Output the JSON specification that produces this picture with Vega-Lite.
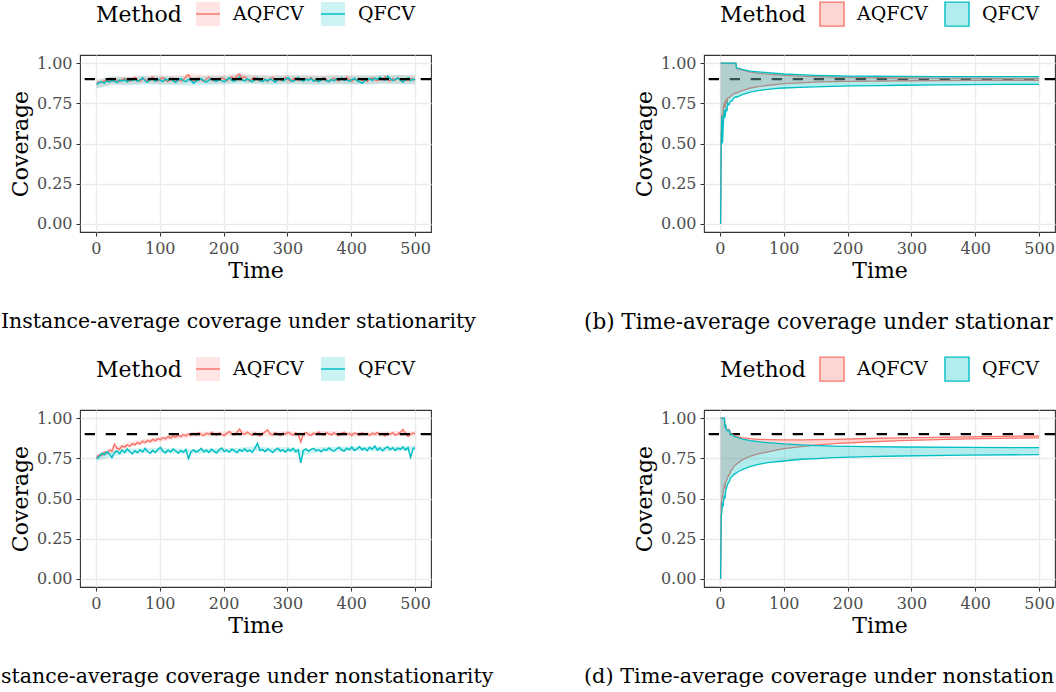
{
"$schema": "https://vega.github.io/schema/vega-lite/v6.json",
"background": "white",
"padding": {"left": 0, "top": 0, "right": 0, "bottom": 0},
"config": {
 "font": "DejaVu Serif",
 "view": {"stroke": "#333333", "strokeWidth": 1.1},
 "axis": {"domain": false, "grid": true, "gridColor": "#ebebeb", "tickColor": "#333333", "tickSize": 4, "tickWidth": 1.1, "labelColor": "#4d4d4d", "labelFont": "DejaVu Serif", "labelFontSize": 16, "titleFont": "DejaVu Serif", "titleFontSize": 22, "titleFontWeight": "normal", "titleColor": "black", "labelPadding": 4},
 "axisX": {"titlePadding": 4},
 "axisY": {"titlePadding": 4},
 "legend": {"orient": "top", "direction": "horizontal", "titleOrient": "left", "titleFont": "DejaVu Serif", "titleFontSize": 22, "titleFontWeight": "normal", "titleColor": "black", "labelFont": "DejaVu Serif", "labelFontSize": 19, "labelColor": "black", "symbolSize": 576, "labelOffset": 12, "columnPadding": 14, "titlePadding": 13, "offset": 26, "padding": 0, "layout": {"top": {"anchor": "middle"}}},
 "title": {"font": "DejaVu Serif", "fontWeight": "normal", "color": "black", "fontSize": 20.5}
},
"datasets": {
 "la": [
  {"t":1,"A":0.872,"Q":0.866},{"t":5,"A":0.884,"Q":0.878},{"t":9,"A":0.879,"Q":0.884},{"t":13,"A":0.891,"Q":0.874},{"t":17,"A":0.886,"Q":0.889},{"t":21,"A":0.898,"Q":0.881},{"t":25,"A":0.889,"Q":0.893},{"t":29,"A":0.902,"Q":0.886},{"t":33,"A":0.893,"Q":0.879},{"t":37,"A":0.884,"Q":0.895},
  {"t":41,"A":0.899,"Q":0.888},{"t":45,"A":0.905,"Q":0.897},{"t":49,"A":0.892,"Q":0.883},{"t":53,"A":0.887,"Q":0.899},{"t":57,"A":0.9,"Q":0.891},{"t":61,"A":0.911,"Q":0.902},{"t":65,"A":0.894,"Q":0.886},{"t":69,"A":0.886,"Q":0.896},{"t":73,"A":0.903,"Q":0.908},{"t":77,"A":0.897,"Q":0.889},
  {"t":81,"A":0.889,"Q":0.881},{"t":85,"A":0.905,"Q":0.897},{"t":89,"A":0.913,"Q":0.904},{"t":93,"A":0.896,"Q":0.887},{"t":97,"A":0.888,"Q":0.899},{"t":101,"A":0.901,"Q":0.893},{"t":105,"A":0.909,"Q":0.885},{"t":109,"A":0.893,"Q":0.901},{"t":113,"A":0.885,"Q":0.892},{"t":117,"A":0.899,"Q":0.906},
  {"t":121,"A":0.906,"Q":0.889},{"t":125,"A":0.894,"Q":0.88},{"t":129,"A":0.902,"Q":0.895},{"t":133,"A":0.889,"Q":0.903},{"t":137,"A":0.897,"Q":0.891},{"t":141,"A":0.916,"Q":0.884},{"t":145,"A":0.927,"Q":0.899},{"t":149,"A":0.903,"Q":0.892},{"t":153,"A":0.891,"Q":0.875},{"t":157,"A":0.898,"Q":0.887},
  {"t":161,"A":0.907,"Q":0.896},{"t":165,"A":0.895,"Q":0.902},{"t":169,"A":0.886,"Q":0.889},{"t":173,"A":0.901,"Q":0.881},{"t":177,"A":0.912,"Q":0.894},{"t":181,"A":0.898,"Q":0.905},{"t":185,"A":0.89,"Q":0.893},{"t":189,"A":0.904,"Q":0.886},{"t":193,"A":0.896,"Q":0.899},{"t":197,"A":0.909,"Q":0.891},
  {"t":201,"A":0.901,"Q":0.884},{"t":205,"A":0.889,"Q":0.897},{"t":209,"A":0.906,"Q":0.908},{"t":213,"A":0.914,"Q":0.892},{"t":217,"A":0.899,"Q":0.887},{"t":221,"A":0.922,"Q":0.901},{"t":225,"A":0.931,"Q":0.913},{"t":229,"A":0.908,"Q":0.896},{"t":233,"A":0.917,"Q":0.889},{"t":237,"A":0.896,"Q":0.902},
  {"t":241,"A":0.888,"Q":0.894},{"t":245,"A":0.903,"Q":0.883},{"t":249,"A":0.911,"Q":0.896},{"t":253,"A":0.897,"Q":0.907},{"t":257,"A":0.89,"Q":0.891},{"t":261,"A":0.905,"Q":0.885},{"t":265,"A":0.899,"Q":0.898},{"t":269,"A":0.886,"Q":0.89},{"t":273,"A":0.902,"Q":0.902},{"t":277,"A":0.91,"Q":0.893},
  {"t":281,"A":0.895,"Q":0.881},{"t":285,"A":0.903,"Q":0.896},{"t":289,"A":0.892,"Q":0.904},{"t":293,"A":0.898,"Q":0.889},{"t":297,"A":0.912,"Q":0.897},{"t":301,"A":0.897,"Q":0.909},{"t":305,"A":0.887,"Q":0.893},{"t":309,"A":0.901,"Q":0.886},{"t":313,"A":0.908,"Q":0.899},{"t":317,"A":0.893,"Q":0.911},
  {"t":321,"A":0.899,"Q":0.895},{"t":325,"A":0.89,"Q":0.888},{"t":329,"A":0.905,"Q":0.9},{"t":333,"A":0.896,"Q":0.892},{"t":337,"A":0.909,"Q":0.904},{"t":341,"A":0.893,"Q":0.887},{"t":345,"A":0.887,"Q":0.897},{"t":349,"A":0.9,"Q":0.884},{"t":353,"A":0.895,"Q":0.895},{"t":357,"A":0.91,"Q":0.906},
  {"t":361,"A":0.899,"Q":0.891},{"t":365,"A":0.885,"Q":0.885},{"t":369,"A":0.898,"Q":0.898},{"t":373,"A":0.906,"Q":0.889},{"t":377,"A":0.892,"Q":0.902},{"t":381,"A":0.889,"Q":0.894},{"t":385,"A":0.903,"Q":0.908},{"t":389,"A":0.896,"Q":0.892},{"t":393,"A":0.912,"Q":0.899},{"t":397,"A":0.898,"Q":0.886},
  {"t":401,"A":0.887,"Q":0.897},{"t":405,"A":0.902,"Q":0.905},{"t":409,"A":0.894,"Q":0.891},{"t":413,"A":0.906,"Q":0.884},{"t":417,"A":0.891,"Q":0.874},{"t":421,"A":0.898,"Q":0.889},{"t":425,"A":0.885,"Q":0.896},{"t":429,"A":0.901,"Q":0.903},{"t":433,"A":0.909,"Q":0.892},{"t":437,"A":0.895,"Q":0.906},
  {"t":441,"A":0.89,"Q":0.899},{"t":445,"A":0.903,"Q":0.912},{"t":449,"A":0.897,"Q":0.901},{"t":453,"A":0.914,"Q":0.894},{"t":457,"A":0.899,"Q":0.918},{"t":461,"A":0.888,"Q":0.903},{"t":465,"A":0.904,"Q":0.891},{"t":469,"A":0.893,"Q":0.899},{"t":473,"A":0.908,"Q":0.907},{"t":477,"A":0.896,"Q":0.893},
  {"t":481,"A":0.884,"Q":0.882},{"t":485,"A":0.901,"Q":0.896},{"t":489,"A":0.893,"Q":0.909},{"t":493,"A":0.905,"Q":0.891},{"t":497,"A":0.896,"Q":0.9},{"t":500,"A":0.899,"Q":0.894}
 ],
 "ra": [
  {"t":1,"Al":0.845,"Ah":0.9,"Ql":0.84,"Qh":0.893},{"t":25,"Al":0.865,"Ah":0.915,"Ql":0.866,"Qh":0.918},{"t":50,"Al":0.866,"Ah":0.918,"Ql":0.86,"Qh":0.912},{"t":75,"Al":0.873,"Ah":0.923,"Ql":0.866,"Qh":0.918},{"t":100,"Al":0.871,"Ah":0.926,"Ql":0.865,"Qh":0.92},
  {"t":125,"Al":0.868,"Ah":0.922,"Ql":0.862,"Qh":0.917},{"t":150,"Al":0.878,"Ah":0.933,"Ql":0.861,"Qh":0.915},{"t":175,"Al":0.873,"Ah":0.925,"Ql":0.864,"Qh":0.919},{"t":200,"Al":0.872,"Ah":0.926,"Ql":0.866,"Qh":0.92},{"t":225,"Al":0.882,"Ah":0.938,"Ql":0.87,"Qh":0.925},
  {"t":250,"Al":0.874,"Ah":0.928,"Ql":0.868,"Qh":0.922},{"t":275,"Al":0.872,"Ah":0.926,"Ql":0.865,"Qh":0.92},{"t":300,"Al":0.873,"Ah":0.927,"Ql":0.869,"Qh":0.924},{"t":325,"Al":0.87,"Ah":0.925,"Ql":0.866,"Qh":0.921},{"t":350,"Al":0.871,"Ah":0.926,"Ql":0.864,"Qh":0.919},
  {"t":375,"Al":0.872,"Ah":0.926,"Ql":0.867,"Qh":0.922},{"t":400,"Al":0.87,"Ah":0.925,"Ql":0.866,"Qh":0.921},{"t":425,"Al":0.868,"Ah":0.923,"Ql":0.866,"Qh":0.922},{"t":450,"Al":0.873,"Ah":0.928,"Ql":0.871,"Qh":0.927},{"t":475,"Al":0.872,"Ah":0.926,"Ql":0.869,"Qh":0.925},{"t":500,"Al":0.872,"Ah":0.926,"Ql":0.867,"Qh":0.921}
 ],
 "lc": [
  {"t":1,"A":0.755,"Q":0.748},{"t":5,"A":0.772,"Q":0.76},{"t":9,"A":0.768,"Q":0.781},{"t":13,"A":0.789,"Q":0.772},{"t":17,"A":0.781,"Q":0.79},{"t":21,"A":0.801,"Q":0.777},{"t":25,"A":0.795,"Q":0.754},{"t":29,"A":0.838,"Q":0.786},{"t":33,"A":0.812,"Q":0.795},{"t":37,"A":0.806,"Q":0.779},
  {"t":41,"A":0.826,"Q":0.801},{"t":45,"A":0.819,"Q":0.786},{"t":49,"A":0.833,"Q":0.808},{"t":53,"A":0.825,"Q":0.792},{"t":57,"A":0.841,"Q":0.777},{"t":61,"A":0.834,"Q":0.797},{"t":65,"A":0.848,"Q":0.784},{"t":69,"A":0.839,"Q":0.803},{"t":73,"A":0.856,"Q":0.789},{"t":77,"A":0.847,"Q":0.812},
  {"t":81,"A":0.861,"Q":0.792},{"t":85,"A":0.852,"Q":0.781},{"t":89,"A":0.868,"Q":0.799},{"t":93,"A":0.859,"Q":0.786},{"t":97,"A":0.872,"Q":0.805},{"t":101,"A":0.866,"Q":0.818},{"t":105,"A":0.879,"Q":0.794},{"t":109,"A":0.871,"Q":0.783},{"t":113,"A":0.884,"Q":0.801},{"t":117,"A":0.876,"Q":0.789},
  {"t":121,"A":0.889,"Q":0.808},{"t":125,"A":0.881,"Q":0.795},{"t":129,"A":0.893,"Q":0.782},{"t":133,"A":0.885,"Q":0.799},{"t":137,"A":0.897,"Q":0.787},{"t":141,"A":0.889,"Q":0.805},{"t":145,"A":0.901,"Q":0.748},{"t":149,"A":0.893,"Q":0.791},{"t":153,"A":0.904,"Q":0.802},{"t":157,"A":0.896,"Q":0.788},
  {"t":161,"A":0.909,"Q":0.797},{"t":165,"A":0.899,"Q":0.811},{"t":169,"A":0.891,"Q":0.79},{"t":173,"A":0.906,"Q":0.801},{"t":177,"A":0.898,"Q":0.786},{"t":181,"A":0.912,"Q":0.806},{"t":185,"A":0.901,"Q":0.795},{"t":189,"A":0.894,"Q":0.783},{"t":193,"A":0.908,"Q":0.802},{"t":197,"A":0.899,"Q":0.814},
  {"t":201,"A":0.891,"Q":0.793},{"t":205,"A":0.905,"Q":0.801},{"t":209,"A":0.917,"Q":0.789},{"t":213,"A":0.902,"Q":0.806},{"t":217,"A":0.896,"Q":0.797},{"t":221,"A":0.911,"Q":0.784},{"t":225,"A":0.932,"Q":0.803},{"t":229,"A":0.906,"Q":0.795},{"t":233,"A":0.898,"Q":0.809},{"t":237,"A":0.912,"Q":0.792},
  {"t":241,"A":0.901,"Q":0.8},{"t":245,"A":0.893,"Q":0.787},{"t":249,"A":0.907,"Q":0.811},{"t":253,"A":0.899,"Q":0.843},{"t":257,"A":0.888,"Q":0.798},{"t":261,"A":0.904,"Q":0.805},{"t":265,"A":0.914,"Q":0.791},{"t":269,"A":0.926,"Q":0.808},{"t":273,"A":0.901,"Q":0.799},{"t":277,"A":0.895,"Q":0.786},
  {"t":281,"A":0.909,"Q":0.803},{"t":285,"A":0.898,"Q":0.812},{"t":289,"A":0.891,"Q":0.795},{"t":293,"A":0.906,"Q":0.802},{"t":297,"A":0.899,"Q":0.788},{"t":301,"A":0.912,"Q":0.806},{"t":305,"A":0.902,"Q":0.797},{"t":309,"A":0.894,"Q":0.811},{"t":313,"A":0.908,"Q":0.791},{"t":317,"A":0.897,"Q":0.803},
  {"t":321,"A":0.852,"Q":0.722},{"t":325,"A":0.903,"Q":0.798},{"t":329,"A":0.911,"Q":0.808},{"t":333,"A":0.898,"Q":0.793},{"t":337,"A":0.892,"Q":0.805},{"t":341,"A":0.906,"Q":0.812},{"t":345,"A":0.899,"Q":0.796},{"t":349,"A":0.913,"Q":0.803},{"t":353,"A":0.901,"Q":0.791},{"t":357,"A":0.894,"Q":0.807},
  {"t":361,"A":0.909,"Q":0.799},{"t":365,"A":0.902,"Q":0.814},{"t":369,"A":0.896,"Q":0.802},{"t":373,"A":0.908,"Q":0.794},{"t":377,"A":0.899,"Q":0.809},{"t":381,"A":0.891,"Q":0.818},{"t":385,"A":0.905,"Q":0.801},{"t":389,"A":0.912,"Q":0.795},{"t":393,"A":0.898,"Q":0.812},{"t":397,"A":0.903,"Q":0.804},
  {"t":401,"A":0.893,"Q":0.819},{"t":405,"A":0.907,"Q":0.798},{"t":409,"A":0.901,"Q":0.808},{"t":413,"A":0.895,"Q":0.821},{"t":417,"A":0.909,"Q":0.803},{"t":421,"A":0.898,"Q":0.812},{"t":425,"A":0.904,"Q":0.797},{"t":429,"A":0.893,"Q":0.818},{"t":433,"A":0.906,"Q":0.806},{"t":437,"A":0.899,"Q":0.826},
  {"t":441,"A":0.911,"Q":0.801},{"t":445,"A":0.897,"Q":0.815},{"t":449,"A":0.903,"Q":0.797},{"t":453,"A":0.889,"Q":0.811},{"t":457,"A":0.905,"Q":0.822},{"t":461,"A":0.898,"Q":0.803},{"t":465,"A":0.909,"Q":0.816},{"t":469,"A":0.894,"Q":0.799},{"t":473,"A":0.901,"Q":0.813},{"t":477,"A":0.912,"Q":0.806},
  {"t":481,"A":0.929,"Q":0.82},{"t":485,"A":0.904,"Q":0.802},{"t":489,"A":0.886,"Q":0.816},{"t":493,"A":0.898,"Q":0.757},{"t":497,"A":0.907,"Q":0.812},{"t":500,"A":0.902,"Q":0.814}
 ],
 "rc": [
  {"t":1,"Al":0.74,"Ah":0.77,"Ql":0.733,"Qh":0.763},{"t":25,"Al":0.785,"Ah":0.815,"Ql":0.76,"Qh":0.795},{"t":50,"Al":0.815,"Ah":0.848,"Ql":0.78,"Qh":0.81},{"t":75,"Al":0.838,"Ah":0.868,"Ql":0.782,"Qh":0.812},{"t":100,"Al":0.853,"Ah":0.883,"Ql":0.785,"Qh":0.815},
  {"t":125,"Al":0.868,"Ah":0.898,"Ql":0.78,"Qh":0.81},{"t":150,"Al":0.88,"Ah":0.91,"Ql":0.776,"Qh":0.806},{"t":175,"Al":0.887,"Ah":0.917,"Ql":0.781,"Qh":0.811},{"t":200,"Al":0.886,"Ah":0.916,"Ql":0.782,"Qh":0.812},{"t":225,"Al":0.893,"Ah":0.925,"Ql":0.785,"Qh":0.815},
  {"t":250,"Al":0.888,"Ah":0.918,"Ql":0.795,"Qh":0.825},{"t":275,"Al":0.885,"Ah":0.915,"Ql":0.786,"Qh":0.816},{"t":300,"Al":0.89,"Ah":0.92,"Ql":0.79,"Qh":0.82},{"t":325,"Al":0.88,"Ah":0.91,"Ql":0.77,"Qh":0.805},{"t":350,"Al":0.891,"Ah":0.921,"Ql":0.788,"Qh":0.818},
  {"t":375,"Al":0.888,"Ah":0.918,"Ql":0.792,"Qh":0.822},{"t":400,"Al":0.883,"Ah":0.913,"Ql":0.795,"Qh":0.825},{"t":425,"Al":0.887,"Ah":0.917,"Ql":0.793,"Qh":0.823},{"t":450,"Al":0.885,"Ah":0.915,"Ql":0.792,"Qh":0.822},{"t":475,"Al":0.89,"Ah":0.92,"Ql":0.795,"Qh":0.825},{"t":500,"Al":0.887,"Ah":0.917,"Ql":0.798,"Qh":0.828}
 ],
 "rb": [
  {"t":1,"Al":0,"Ah":1,"Ql":0,"Qh":1},{"t":2,"Al":0.55,"Ah":1,"Ql":0.5,"Qh":1},{"t":3,"Al":0.68,"Ah":1,"Ql":0.67,"Qh":1},{"t":4,"Al":0.62,"Ah":1,"Ql":0.5,"Qh":1},{"t":5,"Al":0.7,"Ah":1,"Ql":0.6,"Qh":1},
  {"t":6,"Al":0.74,"Ah":1,"Ql":0.67,"Qh":1},{"t":7,"Al":0.75,"Ah":1,"Ql":0.71,"Qh":1},{"t":8,"Al":0.72,"Ah":1,"Ql":0.66,"Qh":1},{"t":9,"Al":0.76,"Ah":1,"Ql":0.7,"Qh":1},{"t":10,"Al":0.77,"Ah":1,"Ql":0.72,"Qh":1},
  {"t":11,"Al":0.75,"Ah":1,"Ql":0.7,"Qh":1},{"t":12,"Al":0.78,"Ah":1,"Ql":0.75,"Qh":1},{"t":14,"Al":0.785,"Ah":1,"Ql":0.74,"Qh":1},{"t":16,"Al":0.79,"Ah":1,"Ql":0.76,"Qh":1},{"t":19,"Al":0.8,"Ah":1,"Ql":0.765,"Qh":1},
  {"t":22,"Al":0.81,"Ah":1,"Ql":0.783,"Qh":1},{"t":25,"Al":0.815,"Ah":1,"Ql":0.79,"Qh":1},{"t":26,"Al":0.812,"Ah":0.965,"Ql":0.788,"Qh":0.971},{"t":30,"Al":0.822,"Ah":0.962,"Ql":0.795,"Qh":0.967},{"t":35,"Al":0.829,"Ah":0.957,"Ql":0.804,"Qh":0.961},
  {"t":40,"Al":0.835,"Ah":0.952,"Ql":0.81,"Qh":0.956},{"t":48,"Al":0.845,"Ah":0.944,"Ql":0.82,"Qh":0.95},{"t":60,"Al":0.853,"Ah":0.937,"Ql":0.829,"Qh":0.945},{"t":75,"Al":0.862,"Ah":0.931,"Ql":0.837,"Qh":0.94},{"t":90,"Al":0.868,"Ah":0.927,"Ql":0.842,"Qh":0.935},
  {"t":100,"Al":0.872,"Ah":0.924,"Ql":0.845,"Qh":0.932},{"t":125,"Al":0.877,"Ah":0.919,"Ql":0.849,"Qh":0.928},{"t":150,"Al":0.882,"Ah":0.915,"Ql":0.852,"Qh":0.924},{"t":175,"Al":0.884,"Ah":0.913,"Ql":0.855,"Qh":0.921},{"t":205,"Al":0.886,"Ah":0.911,"Ql":0.858,"Qh":0.919},
  {"t":250,"Al":0.888,"Ah":0.909,"Ql":0.86,"Qh":0.918},{"t":283,"Al":0.89,"Ah":0.907,"Ql":0.862,"Qh":0.917},{"t":350,"Al":0.891,"Ah":0.906,"Ql":0.864,"Qh":0.916},{"t":387,"Al":0.892,"Ah":0.906,"Ql":0.866,"Qh":0.915},{"t":450,"Al":0.893,"Ah":0.905,"Ql":0.867,"Qh":0.915},{"t":500,"Al":0.893,"Ah":0.905,"Ql":0.868,"Qh":0.915}
 ],
 "rd": [
  {"t":1,"Al":0,"Ah":1,"Ql":0,"Qh":1},{"t":2,"Al":0.45,"Ah":1,"Ql":0.39,"Qh":1},{"t":3,"Al":0.5,"Ah":1,"Ql":0.42,"Qh":1},{"t":4,"Al":0.52,"Ah":1,"Ql":0.475,"Qh":1},{"t":5,"Al":0.53,"Ah":1,"Ql":0.45,"Qh":1},
  {"t":6,"Al":0.56,"Ah":1,"Ql":0.5,"Qh":1},{"t":7,"Al":0.58,"Ah":1,"Ql":0.52,"Qh":1},{"t":8,"Al":0.57,"Ah":0.95,"Ql":0.5,"Qh":0.94},{"t":9,"Al":0.6,"Ah":0.955,"Ql":0.55,"Qh":0.95},{"t":10,"Al":0.61,"Ah":0.935,"Ql":0.56,"Qh":0.93},
  {"t":12,"Al":0.63,"Ah":0.925,"Ql":0.59,"Qh":0.92},{"t":14,"Al":0.645,"Ah":0.93,"Ql":0.6,"Qh":0.925},{"t":17,"Al":0.67,"Ah":0.905,"Ql":0.63,"Qh":0.9},{"t":20,"Al":0.685,"Ah":0.898,"Ql":0.64,"Qh":0.895},{"t":22,"Al":0.7,"Ah":0.892,"Ql":0.65,"Qh":0.886},
  {"t":28,"Al":0.72,"Ah":0.884,"Ql":0.665,"Qh":0.878},{"t":35,"Al":0.74,"Ah":0.878,"Ql":0.68,"Qh":0.869},{"t":48,"Al":0.764,"Ah":0.872,"Ql":0.7,"Qh":0.86},{"t":60,"Al":0.778,"Ah":0.868,"Ql":0.712,"Qh":0.853},{"t":75,"Al":0.79,"Ah":0.866,"Ql":0.723,"Qh":0.847},
  {"t":100,"Al":0.81,"Ah":0.864,"Ql":0.733,"Qh":0.839},{"t":127,"Al":0.822,"Ah":0.864,"Ql":0.744,"Qh":0.833},{"t":153,"Al":0.833,"Ah":0.866,"Ql":0.748,"Qh":0.829},{"t":179,"Al":0.841,"Ah":0.868,"Ql":0.754,"Qh":0.826},{"t":231,"Al":0.851,"Ah":0.873,"Ql":0.76,"Qh":0.822},
  {"t":283,"Al":0.86,"Ah":0.877,"Ql":0.764,"Qh":0.82},{"t":387,"Al":0.87,"Ah":0.883,"Ql":0.769,"Qh":0.818},{"t":500,"Al":0.877,"Ah":0.889,"Ql":0.773,"Qh":0.816}
 ]
},
"columns": 2,
"spacing": {"row": 178, "column": 273},
"bounds": "flush",
"resolve": {"scale": {"stroke": "independent", "fill": "independent"}, "legend": {"stroke": "independent", "fill": "independent"}},
"concat": [
 {
  "width": 351, "height": 177,
  "title": {"text": "Instance-average coverage under stationarity", "orient": "bottom", "anchor": "start", "frame": "group", "dx": -79, "offset": 31},
  "layer": [
   {"data": {"name": "ra"}, "mark": {"type": "area"},
    "encoding": {
     "x": {"field": "t", "type": "quantitative", "title": "Time", "scale": {"domain": [-25, 525], "nice": false, "zero": false},
       "axis": {"values": [0,50,100,150,200,250,300,350,400,450,500], "labelExpr": "datum.value % 100 === 0 ? datum.label : ''", "gridWidth": {"condition": {"test": "datum.value % 100 === 0", "value": 1.4}, "value": 0.7}, "tickOpacity": {"condition": {"test": "datum.value % 100 === 0", "value": 1}, "value": 0}}},
     "y": {"field": "Ah", "type": "quantitative", "title": "Coverage", "scale": {"domain": [-0.05, 1.05], "nice": false, "zero": false},
       "axis": {"values": [0,0.125,0.25,0.375,0.5,0.625,0.75,0.875,1], "format": ".2f", "labelExpr": "(datum.value * 4) % 1 === 0 ? datum.label : ''", "gridWidth": {"condition": {"test": "(datum.value * 4) % 1 === 0", "value": 1.4}, "value": 0.7}, "tickOpacity": {"condition": {"test": "(datum.value * 4) % 1 === 0", "value": 1}, "value": 0}}},
     "y2": {"field": "Al"},
     "fill": {"datum": "AQFCV", "title": "Method", "scale": {"domain": ["AQFCV", "QFCV"], "range": ["rgba(248,118,109,0.2)", "rgba(0,191,196,0.2)"]},
       "legend": {"title": "Method", "symbolType": "M-1,0H1V-1H-1V1H1V0", "symbolDash": [24, 96], "symbolStrokeWidth": 1.5}}}},
   {"data": {"name": "ra"}, "mark": {"type": "area"},
    "encoding": {
     "x": {"field": "t", "type": "quantitative", "title": "Time", "scale": {"domain": [-25, 525], "nice": false, "zero": false}},
     "y": {"field": "Qh", "type": "quantitative", "title": "Coverage", "scale": {"domain": [-0.05, 1.05], "nice": false, "zero": false}},
     "y2": {"field": "Ql"},
     "fill": {"datum": "QFCV", "title": "Method", "scale": {"domain": ["AQFCV", "QFCV"], "range": ["rgba(248,118,109,0.2)", "rgba(0,191,196,0.2)"]}}}},
   {"data": {"name": "la"}, "mark": {"type": "line", "strokeWidth": 1.5},
    "encoding": {
     "x": {"field": "t", "type": "quantitative", "title": "Time", "scale": {"domain": [-25, 525], "nice": false, "zero": false}},
     "y": {"field": "A", "type": "quantitative", "title": "Coverage", "scale": {"domain": [-0.05, 1.05], "nice": false, "zero": false}},
     "stroke": {"datum": "AQFCV", "title": "Method", "scale": {"domain": ["AQFCV", "QFCV"], "range": ["#F8766D", "#00BFC4"]},
       "legend": {"title": "Method", "symbolType": "M-1,0H1V-1H-1V1H1V0", "symbolDash": [24, 96], "symbolStrokeWidth": 1.5}}}},
   {"data": {"name": "la"}, "mark": {"type": "line", "strokeWidth": 1.5},
    "encoding": {
     "x": {"field": "t", "type": "quantitative", "title": "Time", "scale": {"domain": [-25, 525], "nice": false, "zero": false}},
     "y": {"field": "Q", "type": "quantitative", "title": "Coverage", "scale": {"domain": [-0.05, 1.05], "nice": false, "zero": false}},
     "stroke": {"datum": "QFCV", "title": "Method", "scale": {"domain": ["AQFCV", "QFCV"], "range": ["#F8766D", "#00BFC4"]}}}},
   {"data": {"values": [{}]}, "mark": {"type": "rule", "color": "black", "strokeWidth": 2.2, "strokeDash": [10.3, 10.7]},
    "encoding": {"y": {"datum": 0.9, "type": "quantitative", "title": "Coverage", "scale": {"domain": [-0.05, 1.05], "nice": false, "zero": false}}}}
  ]
 },
 {
  "width": 351, "height": 177,
  "title": {"text": "(b) Time-average coverage under stationar", "orient": "bottom", "anchor": "start", "frame": "group", "dx": -120, "offset": 31, "fontSize": 21.5},
  "layer": [
   {"data": {"values": [{}]}, "mark": {"type": "rule", "color": "black", "strokeWidth": 2.2, "strokeDash": [10.3, 10.7]},
    "encoding": {"y": {"datum": 0.9, "type": "quantitative", "title": "Coverage", "scale": {"domain": [-0.05, 1.05], "nice": false, "zero": false},
       "axis": {"values": [0,0.125,0.25,0.375,0.5,0.625,0.75,0.875,1], "format": ".2f", "labelExpr": "(datum.value * 4) % 1 === 0 ? datum.label : ''", "gridWidth": {"condition": {"test": "(datum.value * 4) % 1 === 0", "value": 1.4}, "value": 0.7}, "tickOpacity": {"condition": {"test": "(datum.value * 4) % 1 === 0", "value": 1}, "value": 0}}}}},
   {"data": {"name": "rb"}, "mark": {"type": "area"},
    "encoding": {
     "x": {"field": "t", "type": "quantitative", "title": "Time", "scale": {"domain": [-25, 525], "nice": false, "zero": false},
       "axis": {"values": [0,50,100,150,200,250,300,350,400,450,500], "labelExpr": "datum.value % 100 === 0 ? datum.label : ''", "gridWidth": {"condition": {"test": "datum.value % 100 === 0", "value": 1.4}, "value": 0.7}, "tickOpacity": {"condition": {"test": "datum.value % 100 === 0", "value": 1}, "value": 0}}},
     "y": {"field": "Ah", "type": "quantitative", "title": "Coverage", "scale": {"domain": [-0.05, 1.05], "nice": false, "zero": false}},
     "y2": {"field": "Al"},
     "fill": {"datum": "AQFCV", "title": "Method", "scale": {"domain": ["AQFCV", "QFCV"], "range": ["rgba(248,118,109,0.3)", "rgba(0,191,196,0.3)"]},
       "legend": {"title": "Method", "symbolType": "square", "symbolStrokeWidth": 1.4}}}},
   {"data": {"name": "rb"}, "mark": {"type": "line", "strokeWidth": 1.3},
    "encoding": {
     "x": {"field": "t", "type": "quantitative", "title": "Time", "scale": {"domain": [-25, 525], "nice": false, "zero": false}},
     "y": {"field": "Ah", "type": "quantitative", "title": "Coverage", "scale": {"domain": [-0.05, 1.05], "nice": false, "zero": false}},
     "stroke": {"datum": "AQFCV", "title": "Method", "scale": {"domain": ["AQFCV", "QFCV"], "range": ["#F8766D", "#00BFC4"]},
       "legend": {"title": "Method", "symbolType": "square", "symbolStrokeWidth": 1.4}}}},
   {"data": {"name": "rb"}, "mark": {"type": "line", "strokeWidth": 1.3},
    "encoding": {
     "x": {"field": "t", "type": "quantitative", "title": "Time", "scale": {"domain": [-25, 525], "nice": false, "zero": false}},
     "y": {"field": "Al", "type": "quantitative", "title": "Coverage", "scale": {"domain": [-0.05, 1.05], "nice": false, "zero": false}},
     "stroke": {"datum": "AQFCV", "title": "Method", "scale": {"domain": ["AQFCV", "QFCV"], "range": ["#F8766D", "#00BFC4"]}}}},
   {"data": {"name": "rb"}, "mark": {"type": "area"},
    "encoding": {
     "x": {"field": "t", "type": "quantitative", "title": "Time", "scale": {"domain": [-25, 525], "nice": false, "zero": false}},
     "y": {"field": "Qh", "type": "quantitative", "title": "Coverage", "scale": {"domain": [-0.05, 1.05], "nice": false, "zero": false}},
     "y2": {"field": "Ql"},
     "fill": {"datum": "QFCV", "title": "Method", "scale": {"domain": ["AQFCV", "QFCV"], "range": ["rgba(248,118,109,0.3)", "rgba(0,191,196,0.3)"]}}}},
   {"data": {"name": "rb"}, "mark": {"type": "line", "strokeWidth": 1.3},
    "encoding": {
     "x": {"field": "t", "type": "quantitative", "title": "Time", "scale": {"domain": [-25, 525], "nice": false, "zero": false}},
     "y": {"field": "Qh", "type": "quantitative", "title": "Coverage", "scale": {"domain": [-0.05, 1.05], "nice": false, "zero": false}},
     "stroke": {"datum": "QFCV", "title": "Method", "scale": {"domain": ["AQFCV", "QFCV"], "range": ["#F8766D", "#00BFC4"]}}}},
   {"data": {"name": "rb"}, "mark": {"type": "line", "strokeWidth": 1.3},
    "encoding": {
     "x": {"field": "t", "type": "quantitative", "title": "Time", "scale": {"domain": [-25, 525], "nice": false, "zero": false}},
     "y": {"field": "Ql", "type": "quantitative", "title": "Coverage", "scale": {"domain": [-0.05, 1.05], "nice": false, "zero": false}},
     "stroke": {"datum": "QFCV", "title": "Method", "scale": {"domain": ["AQFCV", "QFCV"], "range": ["#F8766D", "#00BFC4"]}}}}
  ]
 },
 {
  "width": 351, "height": 177,
  "title": {"text": "stance-average coverage under nonstationarity", "orient": "bottom", "anchor": "start", "frame": "group", "dx": -79, "offset": 31},
  "layer": [
   {"data": {"name": "rc"}, "mark": {"type": "area"},
    "encoding": {
     "x": {"field": "t", "type": "quantitative", "title": "Time", "scale": {"domain": [-25, 525], "nice": false, "zero": false},
       "axis": {"values": [0,50,100,150,200,250,300,350,400,450,500], "labelExpr": "datum.value % 100 === 0 ? datum.label : ''", "gridWidth": {"condition": {"test": "datum.value % 100 === 0", "value": 1.4}, "value": 0.7}, "tickOpacity": {"condition": {"test": "datum.value % 100 === 0", "value": 1}, "value": 0}}},
     "y": {"field": "Ah", "type": "quantitative", "title": "Coverage", "scale": {"domain": [-0.05, 1.05], "nice": false, "zero": false},
       "axis": {"values": [0,0.125,0.25,0.375,0.5,0.625,0.75,0.875,1], "format": ".2f", "labelExpr": "(datum.value * 4) % 1 === 0 ? datum.label : ''", "gridWidth": {"condition": {"test": "(datum.value * 4) % 1 === 0", "value": 1.4}, "value": 0.7}, "tickOpacity": {"condition": {"test": "(datum.value * 4) % 1 === 0", "value": 1}, "value": 0}}},
     "y2": {"field": "Al"},
     "fill": {"datum": "AQFCV", "title": "Method", "scale": {"domain": ["AQFCV", "QFCV"], "range": ["rgba(248,118,109,0.2)", "rgba(0,191,196,0.2)"]},
       "legend": {"title": "Method", "symbolType": "M-1,0H1V-1H-1V1H1V0", "symbolDash": [24, 96], "symbolStrokeWidth": 1.5}}}},
   {"data": {"name": "rc"}, "mark": {"type": "area"},
    "encoding": {
     "x": {"field": "t", "type": "quantitative", "title": "Time", "scale": {"domain": [-25, 525], "nice": false, "zero": false}},
     "y": {"field": "Qh", "type": "quantitative", "title": "Coverage", "scale": {"domain": [-0.05, 1.05], "nice": false, "zero": false}},
     "y2": {"field": "Ql"},
     "fill": {"datum": "QFCV", "title": "Method", "scale": {"domain": ["AQFCV", "QFCV"], "range": ["rgba(248,118,109,0.2)", "rgba(0,191,196,0.2)"]}}}},
   {"data": {"name": "lc"}, "mark": {"type": "line", "strokeWidth": 1.5},
    "encoding": {
     "x": {"field": "t", "type": "quantitative", "title": "Time", "scale": {"domain": [-25, 525], "nice": false, "zero": false}},
     "y": {"field": "A", "type": "quantitative", "title": "Coverage", "scale": {"domain": [-0.05, 1.05], "nice": false, "zero": false}},
     "stroke": {"datum": "AQFCV", "title": "Method", "scale": {"domain": ["AQFCV", "QFCV"], "range": ["#F8766D", "#00BFC4"]},
       "legend": {"title": "Method", "symbolType": "M-1,0H1V-1H-1V1H1V0", "symbolDash": [24, 96], "symbolStrokeWidth": 1.5}}}},
   {"data": {"name": "lc"}, "mark": {"type": "line", "strokeWidth": 1.5},
    "encoding": {
     "x": {"field": "t", "type": "quantitative", "title": "Time", "scale": {"domain": [-25, 525], "nice": false, "zero": false}},
     "y": {"field": "Q", "type": "quantitative", "title": "Coverage", "scale": {"domain": [-0.05, 1.05], "nice": false, "zero": false}},
     "stroke": {"datum": "QFCV", "title": "Method", "scale": {"domain": ["AQFCV", "QFCV"], "range": ["#F8766D", "#00BFC4"]}}}},
   {"data": {"values": [{}]}, "mark": {"type": "rule", "color": "black", "strokeWidth": 2.2, "strokeDash": [10.3, 10.7]},
    "encoding": {"y": {"datum": 0.9, "type": "quantitative", "title": "Coverage", "scale": {"domain": [-0.05, 1.05], "nice": false, "zero": false}}}}
  ]
 },
 {
  "width": 351, "height": 177,
  "title": {"text": "(d) Time-average coverage under nonstation", "orient": "bottom", "anchor": "start", "frame": "group", "dx": -120, "offset": 31, "fontSize": 20.8},
  "layer": [
   {"data": {"values": [{}]}, "mark": {"type": "rule", "color": "black", "strokeWidth": 2.2, "strokeDash": [10.3, 10.7]},
    "encoding": {"y": {"datum": 0.9, "type": "quantitative", "title": "Coverage", "scale": {"domain": [-0.05, 1.05], "nice": false, "zero": false},
       "axis": {"values": [0,0.125,0.25,0.375,0.5,0.625,0.75,0.875,1], "format": ".2f", "labelExpr": "(datum.value * 4) % 1 === 0 ? datum.label : ''", "gridWidth": {"condition": {"test": "(datum.value * 4) % 1 === 0", "value": 1.4}, "value": 0.7}, "tickOpacity": {"condition": {"test": "(datum.value * 4) % 1 === 0", "value": 1}, "value": 0}}}}},
   {"data": {"name": "rd"}, "mark": {"type": "area"},
    "encoding": {
     "x": {"field": "t", "type": "quantitative", "title": "Time", "scale": {"domain": [-25, 525], "nice": false, "zero": false},
       "axis": {"values": [0,50,100,150,200,250,300,350,400,450,500], "labelExpr": "datum.value % 100 === 0 ? datum.label : ''", "gridWidth": {"condition": {"test": "datum.value % 100 === 0", "value": 1.4}, "value": 0.7}, "tickOpacity": {"condition": {"test": "datum.value % 100 === 0", "value": 1}, "value": 0}}},
     "y": {"field": "Ah", "type": "quantitative", "title": "Coverage", "scale": {"domain": [-0.05, 1.05], "nice": false, "zero": false}},
     "y2": {"field": "Al"},
     "fill": {"datum": "AQFCV", "title": "Method", "scale": {"domain": ["AQFCV", "QFCV"], "range": ["rgba(248,118,109,0.3)", "rgba(0,191,196,0.3)"]},
       "legend": {"title": "Method", "symbolType": "square", "symbolStrokeWidth": 1.4}}}},
   {"data": {"name": "rd"}, "mark": {"type": "line", "strokeWidth": 1.3},
    "encoding": {
     "x": {"field": "t", "type": "quantitative", "title": "Time", "scale": {"domain": [-25, 525], "nice": false, "zero": false}},
     "y": {"field": "Ah", "type": "quantitative", "title": "Coverage", "scale": {"domain": [-0.05, 1.05], "nice": false, "zero": false}},
     "stroke": {"datum": "AQFCV", "title": "Method", "scale": {"domain": ["AQFCV", "QFCV"], "range": ["#F8766D", "#00BFC4"]},
       "legend": {"title": "Method", "symbolType": "square", "symbolStrokeWidth": 1.4}}}},
   {"data": {"name": "rd"}, "mark": {"type": "line", "strokeWidth": 1.3},
    "encoding": {
     "x": {"field": "t", "type": "quantitative", "title": "Time", "scale": {"domain": [-25, 525], "nice": false, "zero": false}},
     "y": {"field": "Al", "type": "quantitative", "title": "Coverage", "scale": {"domain": [-0.05, 1.05], "nice": false, "zero": false}},
     "stroke": {"datum": "AQFCV", "title": "Method", "scale": {"domain": ["AQFCV", "QFCV"], "range": ["#F8766D", "#00BFC4"]}}}},
   {"data": {"name": "rd"}, "mark": {"type": "area"},
    "encoding": {
     "x": {"field": "t", "type": "quantitative", "title": "Time", "scale": {"domain": [-25, 525], "nice": false, "zero": false}},
     "y": {"field": "Qh", "type": "quantitative", "title": "Coverage", "scale": {"domain": [-0.05, 1.05], "nice": false, "zero": false}},
     "y2": {"field": "Ql"},
     "fill": {"datum": "QFCV", "title": "Method", "scale": {"domain": ["AQFCV", "QFCV"], "range": ["rgba(248,118,109,0.3)", "rgba(0,191,196,0.3)"]}}}},
   {"data": {"name": "rd"}, "mark": {"type": "line", "strokeWidth": 1.3},
    "encoding": {
     "x": {"field": "t", "type": "quantitative", "title": "Time", "scale": {"domain": [-25, 525], "nice": false, "zero": false}},
     "y": {"field": "Qh", "type": "quantitative", "title": "Coverage", "scale": {"domain": [-0.05, 1.05], "nice": false, "zero": false}},
     "stroke": {"datum": "QFCV", "title": "Method", "scale": {"domain": ["AQFCV", "QFCV"], "range": ["#F8766D", "#00BFC4"]}}}},
   {"data": {"name": "rd"}, "mark": {"type": "line", "strokeWidth": 1.3},
    "encoding": {
     "x": {"field": "t", "type": "quantitative", "title": "Time", "scale": {"domain": [-25, 525], "nice": false, "zero": false}},
     "y": {"field": "Ql", "type": "quantitative", "title": "Coverage", "scale": {"domain": [-0.05, 1.05], "nice": false, "zero": false}},
     "stroke": {"datum": "QFCV", "title": "Method", "scale": {"domain": ["AQFCV", "QFCV"], "range": ["#F8766D", "#00BFC4"]}}}}
  ]
 }
]
}
